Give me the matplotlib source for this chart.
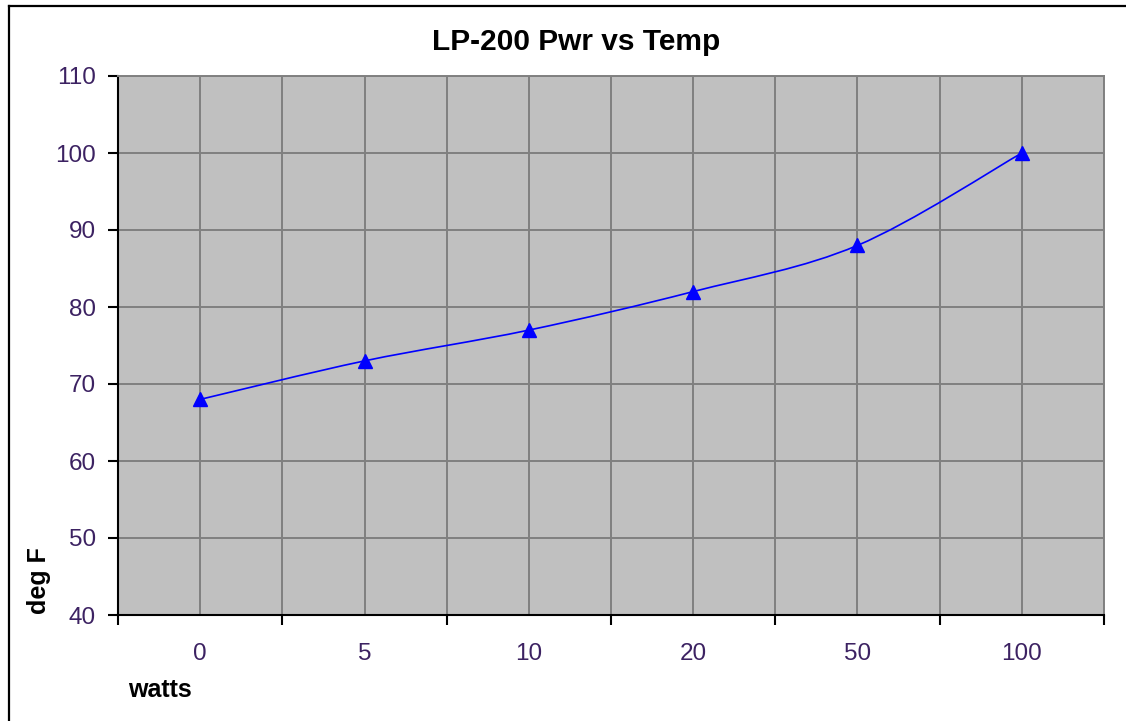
import numpy as np
import matplotlib
matplotlib.use("Agg")
import matplotlib.pyplot as plt
from matplotlib.path import Path
from matplotlib.patches import PathPatch
from matplotlib.lines import Line2D

# ---- data ----
watts_labels = ["0", "5", "10", "20", "50", "100"]
deg_f = [68, 73, 77, 82, 88, 100]
y_ticks = [40, 50, 60, 70, 80, 90, 100, 110]
title = "LP-200 Pwr vs Temp"
x_label = "watts"
y_label = "deg F"

plt.rcParams['font.family'] = ['Liberation Sans', 'DejaVu Sans']

W, H = 1126, 721
fig = plt.figure(figsize=(W / 100, H / 100), dpi=100)
fig.patch.set_facecolor('white')

ax = fig.add_axes([118 / W, (H - 615) / H, (1104 - 118) / W, (615 - 76) / H])
ax.set_facecolor('#C0C0C0')

x = np.arange(len(deg_f), dtype=float)
y = np.array(deg_f, dtype=float)

# smoothed line (Catmull-Rom style bezier through the data points)
px = np.concatenate([[x[0]], x, [x[-1]]])
py = np.concatenate([[y[0]], y, [y[-1]]])
verts = [(x[0], y[0])]
codes = [Path.MOVETO]
for i in range(1, len(px) - 2):
    p0 = np.array([px[i - 1], py[i - 1]])
    p1 = np.array([px[i], py[i]])
    p2 = np.array([px[i + 1], py[i + 1]])
    p3 = np.array([px[i + 2], py[i + 2]])
    c1 = p1 + (p2 - p0) / 6.0
    c2 = p2 - (p3 - p1) / 6.0
    verts += [tuple(c1), tuple(c2), tuple(p2)]
    codes += [Path.CURVE4] * 3
ax.add_patch(PathPatch(Path(verts, codes), facecolor='none', edgecolor='#0000FF',
                       lw=1.2, zorder=3))
ax.plot(x, y, linestyle='none', marker='^', markersize=9.5, color='#0000FF', zorder=4)

ax.set_xlim(-0.5, len(deg_f) - 0.5)
ax.set_ylim(y_ticks[0], y_ticks[-1])

ax.set_xticks(x)
ax.set_xticklabels(watts_labels)
ax.set_xticks(np.arange(-0.5, len(deg_f), 1.0), minor=True)
ax.set_yticks(y_ticks)

tick_color = '#3C2262'
ax.tick_params(axis='x', which='major', length=0, pad=20, labelsize=17.5, labelcolor=tick_color)
ax.tick_params(axis='x', which='minor', length=7, width=1.5, direction='out', color='black')
ax.tick_params(axis='y', which='major', length=7, width=1.5, direction='out', color='black',
               pad=9, labelsize=17.5, labelcolor=tick_color)

ax.grid(which='both', axis='x', color='#808080', lw=1.4)
ax.grid(which='major', axis='y', color='#808080', lw=1.4)
ax.set_axisbelow(True)

for s in ['left', 'bottom']:
    ax.spines[s].set_color('black')
    ax.spines[s].set_linewidth(1.5)
for s in ['top', 'right']:
    ax.spines[s].set_color('#808080')
    ax.spines[s].set_linewidth(1.4)

fig.text(576 / W, 1 - 42 / H, title, ha='center', va='center', fontsize=21.5,
         fontweight='bold', color='black')
fig.text(128 / W, 1 - 690 / H, x_label, ha='left', va='center', fontsize=18,
         fontweight='bold', color='black')
fig.text(39 / W, 1 - 581 / H, y_label, ha='center', va='center', fontsize=18,
         fontweight='bold', color='black', rotation=90)

# chart area border (only top and left edges are visible in the frame)
fig.add_artist(Line2D([8.5 / W, 8.5 / W], [0, 1 - 5.5 / H], transform=fig.transFigure,
                      color='black', lw=1.6))
fig.add_artist(Line2D([8.5 / W, 1], [1 - 5.5 / H, 1 - 5.5 / H], transform=fig.transFigure,
                      color='black', lw=1.6))

fig.savefig('out.png', dpi=100)
